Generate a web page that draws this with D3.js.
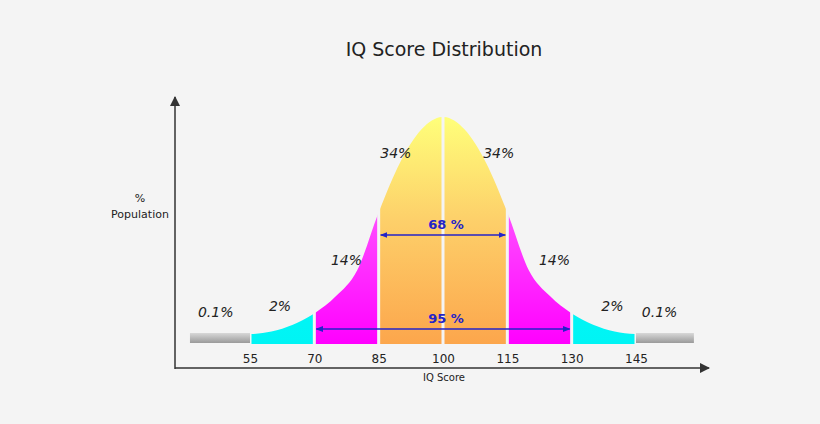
<!DOCTYPE html><html><head><meta charset="utf-8">
<script src="https://cdn.jsdelivr.net/npm/d3@7"></script>
<style>body{margin:0;background:#f4f4f4}svg{display:block}</style></head><body><svg id="c" width="820" height="424"></svg>
<script>
// curve heights (relative %)
const curveX = [40,55,60,65,70,75,80,85,90,95,100,105,110,115,120,125,130,135,140,145,160];
const curveY = [4.4,4.4,5.5,8.5,13.5,21,32.5,58,80,94.6,100,94.6,80,58,32.5,21,13.5,8.5,5.5,4.4,4.4];
const ticks = [55,70,85,100,115,130,145];
const segments = [
 {a:55,b:70,fill:"cyan",label:"2%",lx:62,ly:311},
 {a:70,b:85,fill:"mag",label:"14%",lx:77.5,ly:265},
 {a:85,b:100,fill:"yel",label:"34%",lx:89,ly:158},
 {a:100,b:115,fill:"yel",label:"34%",lx:113,ly:158},
 {a:115,b:130,fill:"mag",label:"14%",lx:126,ly:265},
 {a:130,b:145,fill:"cyan",label:"2%",lx:139.5,ly:311}];
const tails = [{a:41,b:55,label:"0.1%",lx:47,ly:317},{a:145,b:158.5,label:"0.1%",lx:150.5,ly:317}];
const bands = [{a:85,b:115,label:"68 %",y:235},{a:70,b:130,label:"95 %",y:329}];

const svg=d3.select("#c");
const x=d3.scaleLinear().domain([55,145]).range([250,636]);
const y=d3.scaleLinear().domain([0,100]).range([344,117]);
const defs=svg.append("defs");
function grad(id,stops){const g=defs.append("linearGradient").attr("id",id).attr("x1",0).attr("y1",0).attr("x2",0).attr("y2",1);
 stops.forEach(s=>g.append("stop").attr("offset",s[0]).attr("stop-color",s[1]));}
grad("yel",[[0,"#ffff7a"],[0.45,"#fdd06a"],[1,"#fca64c"]]);
grad("mag",[[0,"#ff80ff"],[0.5,"#ff44ff"],[1,"#ff00ff"]]);
grad("cyan",[[0,"#00ffff"],[1,"#00f4f4"]]);
grad("grey",[[0,"#d8d8d8"],[1,"#9a9a9a"]]);
defs.append("marker").attr("id","ar").attr("viewBox","0 0 10 10").attr("refX",9).attr("refY",5).attr("markerWidth",7).attr("markerHeight",7).attr("orient","auto-start-reverse")
 .append("path").attr("d","M0,0L10,5L0,10z").attr("fill","#333");
defs.append("marker").attr("id","ab").attr("viewBox","0 0 10 10").attr("refX",9).attr("refY",5).attr("markerWidth",5).attr("markerHeight",5).attr("orient","auto-start-reverse")
 .append("path").attr("d","M0,1L10,5L0,9z").attr("fill","#2323c8");

svg.append("text").attr("x",444).attr("y",56).attr("text-anchor","middle").attr("font-family","DejaVu Sans").attr("font-size",19).attr("fill","#222").text("IQ Score Distribution");

const pts=curveX.map((d,i)=>[d,curveY[i]]);
const area=d3.area().x(d=>x(d[0])).y0(y(0)).y1(d=>y(d[1])).curve(d3.curveMonotoneX);
segments.forEach((s,i)=>{
 defs.append("clipPath").attr("id","cp"+i).append("rect").attr("x",x(s.a)+1.5).attr("width",x(s.b)-x(s.a)-3).attr("y",0).attr("height",344);
 svg.append("path").datum(pts).attr("d",area).attr("fill","url(#"+s.fill+")").attr("clip-path","url(#cp"+i+")");
 svg.append("text").attr("x",x(s.lx)).attr("y",s.ly).attr("text-anchor","middle").attr("font-family","DejaVu Sans").attr("font-style","italic").attr("font-size",14).attr("fill","#222").text(s.label);
});
tails.forEach(t=>{
 svg.append("rect").attr("x",x(t.a)).attr("width",x(t.b)-x(t.a)).attr("y",333).attr("height",10).attr("fill","url(#grey)");
 svg.append("text").attr("x",x(t.lx)).attr("y",t.ly).attr("text-anchor","middle").attr("font-family","DejaVu Sans").attr("font-style","italic").attr("font-size",14).attr("fill","#222").text(t.label);
});
bands.forEach(b=>{
 svg.append("line").attr("x1",x(b.a)+2).attr("x2",x(b.b)-2).attr("y1",b.y).attr("y2",b.y).attr("stroke","#2323c8").attr("stroke-width",1.5).attr("marker-start","url(#ab)").attr("marker-end","url(#ab)");
 svg.append("text").attr("x",x(100)+3).attr("y",b.y-6).attr("text-anchor","middle").attr("font-family","DejaVu Sans").attr("font-weight","bold").attr("font-size",13).attr("fill","#2323c8").text(b.label);
});
// axes
svg.append("line").attr("x1",175).attr("y1",369).attr("x2",175).attr("y2",97).attr("stroke","#333").attr("stroke-width",1.5).attr("marker-end","url(#ar)");
svg.append("line").attr("x1",175).attr("y1",368).attr("x2",709).attr("y2",368).attr("stroke","#333").attr("stroke-width",1.5).attr("marker-end","url(#ar)");
const ax=svg.append("g").attr("transform","translate(0,344)").call(d3.axisBottom(x).tickValues(ticks).tickSize(0).tickPadding(10));
ax.select(".domain").remove();
ax.selectAll("text").attr("font-family","DejaVu Sans").attr("font-size",12).attr("fill","#222");
svg.append("text").attr("x",444).attr("y",381).attr("text-anchor","middle").attr("font-family","DejaVu Sans").attr("font-size",10).attr("fill","#222").text("IQ Score");
svg.append("text").attr("x",140).attr("y",202).attr("text-anchor","middle").attr("font-family","DejaVu Sans").attr("font-size",11).attr("fill","#222").text("%");
svg.append("text").attr("x",140).attr("y",218).attr("text-anchor","middle").attr("font-family","DejaVu Sans").attr("font-size",11).attr("fill","#222").text("Population");
</script></body></html>
